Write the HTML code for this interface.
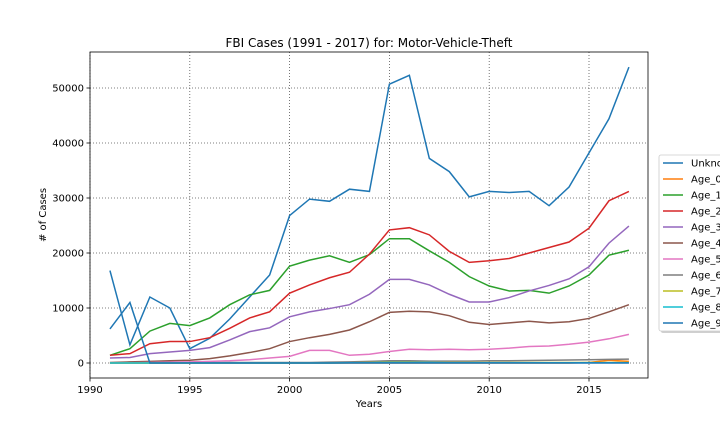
<!DOCTYPE html>
<html><head><meta charset="utf-8"><style>
body{margin:0;background:#fff;font-family:"Liberation Sans","DejaVu Sans",sans-serif}
svg text{font-family:"DejaVu Sans","Liberation Sans",sans-serif;fill:#000}
</style></head><body>
<svg id="c" width="720" height="432" viewBox="0 0 720 432"></svg>
<script>
const years=[1991,1992,1993,1994,1995,1996,1997,1998,1999,2000,2001,2002,2003,2004,2005,2006,2007,2008,2009,2010,2011,2012,2013,2014,2015,2016,2017];
const seriesNames=["Unknown","Age_0","Age_1","Age_2","Age_3","Age_4","Age_5","Age_6","Age_7","Age_8","Age_9"];
const colors=["#1f77b4","#ff7f0e","#2ca02c","#d62728","#9467bd","#8c564b","#e377c2","#7f7f7f","#bcbd22","#17becf","#1f77b4"];
const unknown=[16800,3300,12000,10000,2600,4500,8000,12000,16000,26800,29800,29400,31600,31200,50700,52300,37200,34800,30200,31200,31000,31200,28600,32000,38200,44400,53800];
const age0=[0,0,0,0,0,0,0,0,0,0,0,0,0,0,0,0,0,0,0,0,0,0,0,0,100,500,300];
const age1=[1400,2600,5800,7200,6800,8200,10600,12400,13200,17600,18700,19500,18300,19700,22600,22600,20400,18300,15700,14000,13100,13200,12700,14000,16000,19600,20500];
const age2=[1400,1700,3500,3900,3900,4600,6300,8200,9300,12700,14200,15500,16500,19800,24200,24600,23300,20300,18300,18600,19000,20000,21000,22000,24500,29500,31200];
const age3=[900,1000,1700,2000,2300,2800,4200,5700,6400,8400,9300,9900,10600,12500,15200,15200,14200,12500,11100,11100,11900,13100,14100,15300,17500,21800,24900];
const age4=[100,200,300,400,500,800,1300,1900,2600,3900,4600,5200,6000,7500,9200,9400,9300,8600,7400,7000,7300,7600,7300,7500,8100,9300,10600];
const age5=[0,50,100,150,200,300,400,600,900,1200,2300,2300,1400,1600,2100,2500,2400,2500,2400,2500,2700,3000,3100,3400,3800,4400,5200];
const age6=[0,0,0,0,50,50,100,100,100,100,100,150,200,300,400,400,350,350,350,400,400,450,500,550,600,650,700];
const age7=[0,0,0,0,0,0,0,0,0,0,0,0,50,100,150,150,100,100,100,100,100,100,100,100,100,100,100];
const age8=[0,0,0,0,0,0,0,0,0,0,0,0,50,50,100,100,100,50,50,50,50,50,50,50,50,50,50];
const age9=[6200,11000,0,0,0,0,0,0,0,0,0,0,0,0,0,0,0,0,0,0,0,0,0,0,0,0,0];
const xTicks=[1990,1995,2000,2005,2010,2015];
const yTicks=[0,10000,20000,30000,40000,50000];
const allSeries=[unknown,age0,age1,age2,age3,age4,age5,age6,age7,age8,age9];

const L=90,R=648,T=52,B=378;
const xs=v=>L+(v-1990)*(589-90)/25;
const ys=v=>363-v*(363-88)/50000;
const svg=document.getElementById('c');
const NS="http://www.w3.org/2000/svg";
function mk(t,a,p){const e=document.createElementNS(NS,t);for(const k in a)e.setAttribute(k,a[k]);(p||svg).appendChild(e);return e;}

let e=mk('text',{x:369,y:47,'font-size':12,'text-anchor':'middle'});e.textContent="FBI Cases (1991 - 2017) for: Motor-Vehicle-Theft";



xTicks.forEach(t=>{const x=xs(t);
 let g=mk('line',{x1:x,x2:x,y1:T,y2:B,stroke:'#555','stroke-width':0.8,'stroke-dasharray':'1,2'});
 
 
 mk('line',{x1:x,x2:x,y1:B,y2:B+3.5,stroke:'#000','stroke-width':0.8});
 let tx=mk('text',{x:x,y:B+15,'font-size':10,'text-anchor':'middle'});tx.textContent=t;
 
 
});
yTicks.forEach(t=>{const y=ys(t);
 let g=mk('line',{x1:L,x2:R,y1:y,y2:y,stroke:'#555','stroke-width':0.8,'stroke-dasharray':'1,2'});
 
 
 mk('line',{x1:L-3.5,x2:L,y1:y,y2:y,stroke:'#000','stroke-width':0.8});
 let tx=mk('text',{x:L-6,y:y+3.5,'font-size':10,'text-anchor':'end'});tx.textContent=t;
 
 
});
allSeries.forEach((s,i)=>{
 const p=mk('polyline',{points:s.map((v,j)=>xs(years[j])+','+ys(v)).join(' '),fill:'none',stroke:colors[i],'stroke-width':1.5});
 
 
});
let fr=mk('rect',{x:L,y:T,width:R-L,height:B-T,fill:'none',stroke:'#000','stroke-width':0.8});


e=mk('text',{x:369,y:407,'font-size':10,'text-anchor':'middle'});e.textContent="Years";


e=mk('text',{x:0,y:0,'font-size':10,'text-anchor':'middle',transform:'translate(46,215) rotate(-90)'});e.textContent="# of Cases";



const lg=mk('g',{});


mk('rect',{x:661,y:157,width:70,height:176,fill:'#777',opacity:0.35,rx:2},lg);
mk('rect',{x:659,y:155,width:70,height:176,fill:'#fff',stroke:'#ccc','stroke-width':0.8,rx:2},lg);
seriesNames.forEach((n,i)=>{const y=163+i*16;
 const g=mk('g',{},lg);
 
 
 mk('line',{x1:663,x2:683,y1:y,y2:y,stroke:colors[i],'stroke-width':1.5},g);
 const t=mk('text',{x:691,y:y+3.5,'font-size':10},g);t.textContent=n;
});
</script>
</body></html>
